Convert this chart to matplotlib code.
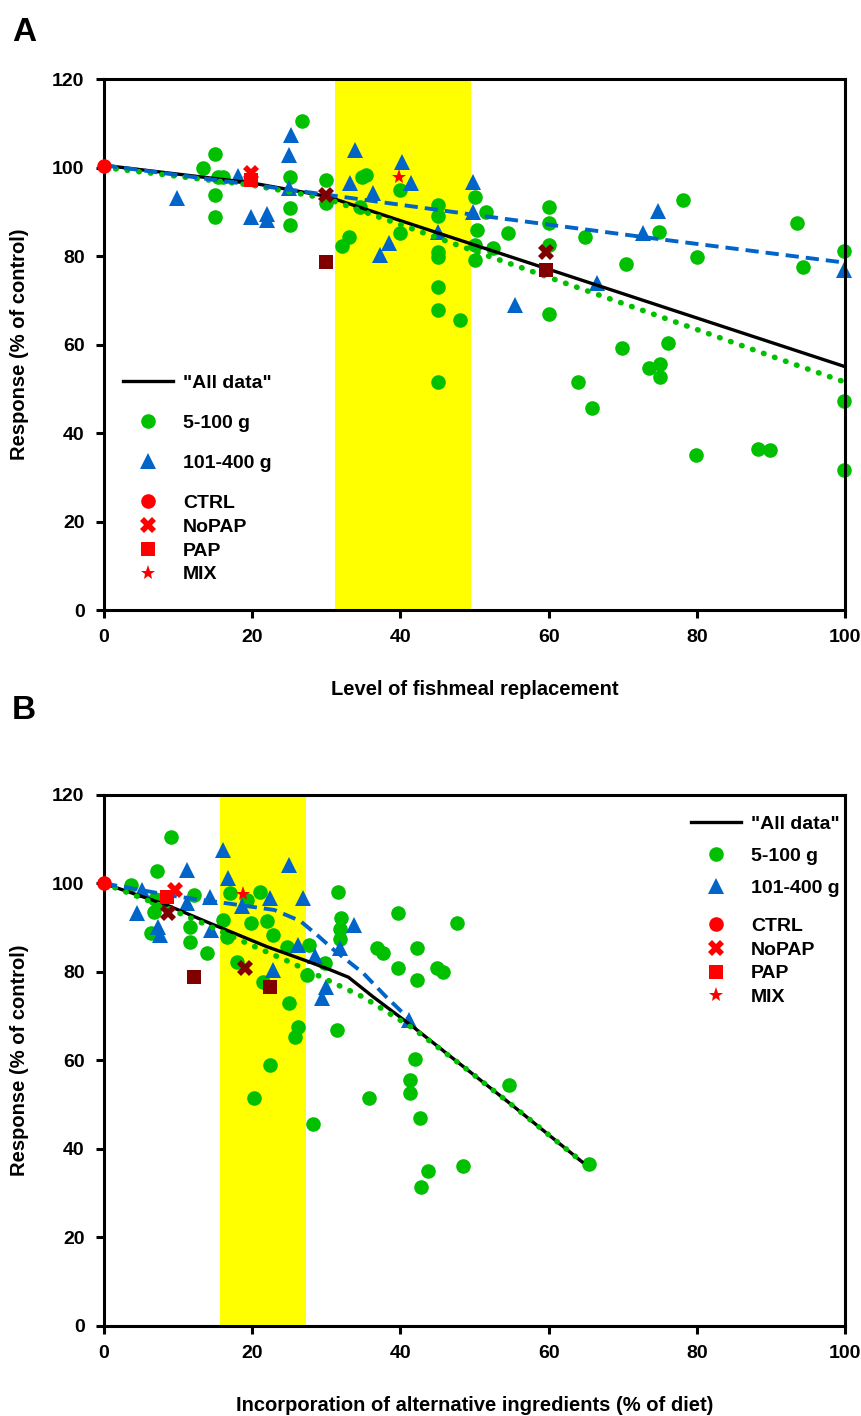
import matplotlib
matplotlib.use('Agg')
import matplotlib.pyplot as plt
from matplotlib.lines import Line2D

plt.rcParams['font.family'] = ['Liberation Sans', 'DejaVu Sans']
plt.rcParams['font.weight'] = 'bold'
plt.rcParams['axes.labelweight'] = 'bold'

# ---- Panel A: level of fishmeal replacement ----
a_small_x = [26.7, 15.0, 13.4, 15.4, 16.1, 15.0, 15.0, 25.1, 25.1, 25.1, 30.0, 30.0,
             34.8, 35.3, 33.0, 32.1, 34.5, 39.9, 39.9, 45.1, 45.1, 45.1, 45.1, 45.1,
             45.1, 48.0, 45.1, 50.1, 51.6, 50.3, 50.1, 50.1, 52.5, 54.5, 60.0, 60.0,
             60.0, 60.0, 64.9, 70.5, 78.2, 74.9, 80.0, 93.5, 94.4, 99.9, 69.9, 76.1,
             64.0, 65.9, 73.5, 75.0, 75.0, 79.9, 88.3, 89.9, 99.9, 99.9]
a_small_y = [110.6, 103.0, 100.0, 97.9, 97.9, 93.8, 88.9, 97.8, 90.8, 87.0, 97.2, 91.9,
             97.9, 98.4, 84.4, 82.3, 91.1, 94.9, 85.2, 91.5, 89.0, 81.0, 79.8, 73.1,
             67.8, 65.5, 51.6, 93.4, 90.0, 85.9, 82.5, 79.0, 81.8, 85.3, 91.1, 87.5,
             82.5, 67.0, 84.4, 78.3, 92.7, 85.5, 79.8, 87.4, 77.6, 81.1, 59.2, 60.4,
             51.6, 45.7, 54.6, 55.7, 52.7, 35.0, 36.5, 36.2, 47.2, 31.6]
a_large_x = [25.3, 25.0, 25.0, 9.9, 18.1, 19.9, 22.0, 22.0, 33.9, 33.2, 36.3, 38.4,
             37.2, 40.2, 41.4, 45.1, 49.8, 49.8, 55.5, 66.5, 72.8, 74.8, 99.9]
a_large_y = [107.3, 102.8, 95.3, 93.0, 98.1, 88.9, 89.6, 88.1, 104.0, 96.6, 94.2, 83.0,
             80.2, 101.3, 96.4, 85.5, 96.8, 90.0, 68.9, 73.8, 85.3, 90.2, 76.8]
a_ctrl = ([0.0], [100.3])
a_nopap = ([19.9], [98.8])
a_pap = ([19.9], [97.2])
a_mix = ([39.8], [97.8])
a_nopap_dk = ([30.0, 59.7], [93.8, 81.0])
a_pap_dk = ([30.0, 59.7], [78.7, 76.8])
a_band = (31.2, 49.5)
a_all_x = [0, 10, 20, 30, 40, 50, 60, 70, 80, 90, 100]
a_all_y = [100.5, 98.5, 96.5, 93.5, 88.0, 82.5, 77.0, 71.5, 66.0, 60.5, 55.0]
a_fit_small_x = [0, 10, 20, 30, 40, 50, 60, 70, 80, 90, 100]
a_fit_small_y = [100.0, 98.0, 96.0, 93.0, 87.1, 81.1, 75.2, 69.3, 63.4, 57.4, 51.5]
a_fit_large_x = [0, 25, 50, 75, 100]
a_fit_large_y = [100.5, 95.0, 89.3, 83.8, 78.5]

# ---- Panel B: incorporation of alternative ingredients ----
b_small_x = [9.0, 7.1, 3.7, 6.9, 7.6, 8.2, 6.7, 6.4, 11.6, 12.1, 11.6, 13.9, 16.1, 16.6,
             17.0, 17.9, 19.3, 21.1, 19.9, 22.0, 22.8, 21.5, 24.7, 24.9, 26.2, 25.8,
             22.4, 27.6, 27.4, 29.8, 31.6, 32.0, 31.8, 31.9, 36.8, 37.7, 39.7, 42.2,
             39.7, 42.2, 44.9, 45.8, 47.6, 31.4, 42.0, 20.2, 28.2, 35.7, 41.3, 41.3,
             42.6, 43.7, 42.8, 48.5, 54.6, 65.4]
b_small_y = [110.4, 102.7, 99.7, 96.5, 95.5, 97.0, 93.6, 88.7, 90.2, 97.4, 86.8, 84.2,
             91.8, 88.0, 97.8, 82.3, 96.3, 98.1, 91.0, 91.4, 88.4, 77.8, 85.7, 72.9,
             67.6, 65.2, 59.0, 86.1, 79.3, 82.0, 98.1, 92.2, 89.8, 87.5, 85.4, 84.2,
             93.3, 85.4, 80.8, 78.2, 81.0, 80.0, 91.0, 66.9, 60.3, 51.4, 45.6, 51.5,
             55.6, 52.7, 46.9, 35.0, 31.5, 36.2, 54.5, 36.5]
b_large_x = [11.2, 5.1, 4.4, 7.3, 7.6, 11.2, 14.3, 14.5, 16.1, 16.8, 18.6, 22.4, 24.9,
             26.9, 26.2, 22.8, 28.5, 30.0, 29.4, 31.8, 33.8, 41.1]
b_large_y = [103.0, 98.5, 93.3, 90.2, 88.4, 95.5, 97.0, 89.5, 107.6, 101.2, 94.8, 96.6,
             104.2, 96.6, 86.1, 80.5, 83.5, 76.7, 74.1, 85.4, 90.6, 69.2]
b_ctrl = ([0.0], [100.2])
b_nopap = ([9.6], [98.5])
b_pap = ([8.5], [96.9])
b_mix = ([18.7], [97.6])
b_nopap_dk = ([8.7, 19.0], [93.4, 80.8])
b_pap_dk = ([12.1, 22.4], [78.8, 76.5])
b_band = (15.6, 27.2)
b_all_x = [0, 8.5, 14.3, 22.0, 27.0, 30.5, 33.0, 36.3, 41.7, 48.5, 55.0, 64.5]
b_all_y = [100.0, 95.1, 91.0, 85.7, 82.7, 80.5, 78.8, 74.4, 67.6, 58.6, 50.0, 37.1]
b_fit_small_x = [0, 8.5, 14.3, 19.0, 25.0, 31.0, 35.0, 41.5, 48.5, 55.0, 64.5]
b_fit_small_y = [100.0, 94.5, 90.3, 86.7, 82.3, 77.5, 74.3, 67.5, 58.6, 50.0, 37.1]
b_fit_large_x = [0, 5, 10, 17.5, 23.0, 26.5, 29.0, 31.0, 35.0, 38.0, 41.3]
b_fit_large_y = [100.0, 98.5, 97.0, 95.3, 94.0, 91.5, 88.0, 85.0, 79.7, 74.5, 69.2]

GREEN = '#00c000'
BLUE = '#0064c8'
RED = '#ff0000'
DARKRED = '#800000'
YELLOW = '#ffff00'


def draw_panel(ax, small, large, ctrl, nopap, pap, mix, nopap_dk, pap_dk, band,
               all_line, fit_small, fit_large, xlabel):
    ax.axvspan(band[0], band[1], color=YELLOW, zorder=0, lw=0)
    ax.plot(small[0], small[1], 'o', color=GREEN, ms=10.5, mew=0, zorder=2, clip_on=False)
    ax.plot(large[0], large[1], '^', color=BLUE, ms=11, mew=0, zorder=2, clip_on=False)
    ax.plot(*all_line, '-', color='black', lw=2.4, zorder=3)
    ax.plot(*fit_small, color=GREEN, lw=4.0, ls=(0, (0.1, 2.0)),
            dash_capstyle='round', zorder=3)
    ax.plot(*fit_large, color=BLUE, lw=2.8, ls=(0, (3.4, 1.8)), zorder=3)
    ax.plot(*nopap_dk, 'X', color=DARKRED, ms=11, mew=0, zorder=4)
    ax.plot(*pap_dk, 's', color=DARKRED, ms=10, mew=0, zorder=4)
    ax.plot(*ctrl, 'o', color=RED, ms=10.5, mew=0, zorder=4, clip_on=False)
    ax.plot(*nopap, 'X', color=RED, ms=11, mew=0, zorder=4)
    ax.plot(*pap, 's', color=RED, ms=10, mew=0, zorder=4)
    ax.plot(*mix, '*', color=RED, ms=11, mew=0, zorder=4)

    ax.set_xlim(0, 100)
    ax.set_ylim(0, 120)
    ax.set_xticks(range(0, 101, 20))
    ax.set_yticks(range(0, 121, 20))
    for s in ax.spines.values():
        s.set_linewidth(2.2)
    ax.tick_params(direction='out', length=6, width=2.2, labelsize=14, pad=8)
    ax.set_xlabel(xlabel, fontsize=14.5, labelpad=24)
    ax.set_ylabel('Response (% of control)', fontsize=14.5, labelpad=17)


def add_legends(ax, anchor1, anchor2, spacing1):
    h1 = [Line2D([], [], color='black', lw=2.4),
          Line2D([], [], marker='o', color=GREEN, ls='', ms=10.5, mew=0),
          Line2D([], [], marker='^', color=BLUE, ls='', ms=11, mew=0)]
    h2 = [Line2D([], [], marker=m, color=RED, ls='', ms=s, mew=0)
          for m, s in (('o', 10.5), ('X', 11), ('s', 10), ('*', 11))]
    leg1 = ax.legend(h1, ['"All data"', '5-100 g', '101-400 g'], loc='upper left',
                     bbox_to_anchor=anchor1, frameon=False, fontsize=14,
                     handlelength=2.6, handletextpad=0.5, labelspacing=spacing1,
                     borderaxespad=0, borderpad=0)
    ax.add_artist(leg1)
    ax.legend(h2, ['CTRL', 'NoPAP', 'PAP', 'MIX'], loc='upper left',
              bbox_to_anchor=anchor2, frameon=False, fontsize=14,
              handlelength=2.6, handletextpad=0.5, labelspacing=0.32,
              borderaxespad=0, borderpad=0)


fig = plt.figure(figsize=(8.61, 14.16), dpi=100)
ax_a = fig.add_axes([0.1208, 0.5692, 0.8606, 0.375])
ax_b = fig.add_axes([0.1208, 0.0636, 0.8606, 0.375])

draw_panel(ax_a, (a_small_x, a_small_y), (a_large_x, a_large_y), a_ctrl, a_nopap,
           a_pap, a_mix, a_nopap_dk, a_pap_dk, a_band, (a_all_x, a_all_y),
           (a_fit_small_x, a_fit_small_y), (a_fit_large_x, a_fit_large_y),
           'Level of fishmeal replacement')
draw_panel(ax_b, (b_small_x, b_small_y), (b_large_x, b_large_y), b_ctrl, b_nopap,
           b_pap, b_mix, b_nopap_dk, b_pap_dk, b_band, (b_all_x, b_all_y),
           (b_fit_small_x, b_fit_small_y), (b_fit_large_x, b_fit_large_y),
           'Incorporation of alternative ingredients (% of diet)')

add_legends(ax_a, (0.025, 0.444), (0.025, 0.218), 1.15)
add_legends(ax_b, (0.792, 0.962), (0.792, 0.77), 0.75)

fig.text(0.014, 0.988, 'A', fontsize=24, va='top', ha='left')
fig.text(0.014, 0.509, 'B', fontsize=24, va='top', ha='left')

fig.savefig('out.png', dpi=100)
